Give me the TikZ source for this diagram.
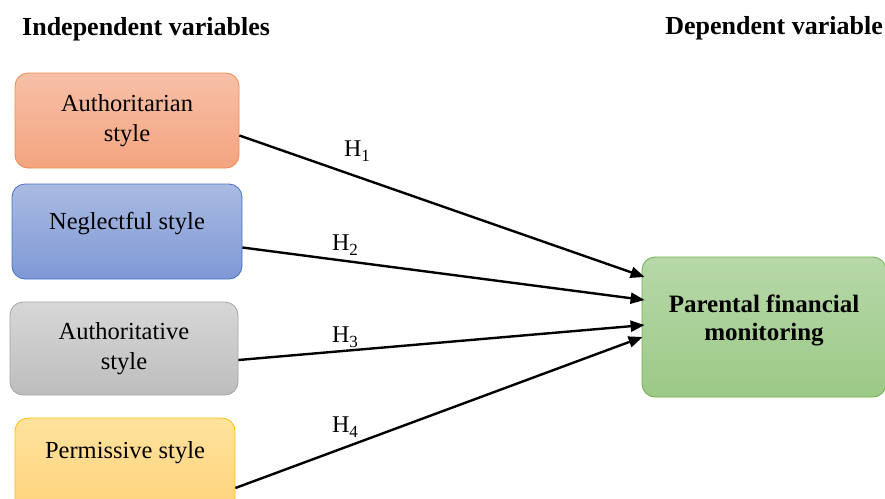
\documentclass[tikz,border=0pt]{standalone}
\usepackage{fontspec}
\setmainfont{Liberation Serif}
\usetikzlibrary{arrows.meta}

\definecolor{orgtop}{HTML}{F7C0A7}
\definecolor{orgbot}{HTML}{F4A47F}
\definecolor{orgline}{HTML}{EE8B57}
\definecolor{blutop}{HTML}{AABAE2}
\definecolor{blubot}{HTML}{7F99D6}
\definecolor{bluline}{HTML}{4472C4}
\definecolor{grytop}{HTML}{D7D7D7}
\definecolor{grybot}{HTML}{BDBDBD}
\definecolor{gryline}{HTML}{A5A5A5}
\definecolor{yeltop}{HTML}{FFE29D}
\definecolor{yelbot}{HTML}{FFD37C}
\definecolor{yelline}{HTML}{FFC000}
\definecolor{grntop}{HTML}{B7D8A9}
\definecolor{grnbot}{HTML}{9CC986}
\definecolor{grnline}{HTML}{70AD47}

\newcommand{\hyplab}[1]{H\raisebox{-5pt}{\fontsize{17}{17}\selectfont #1}}

\begin{document}
\begin{tikzpicture}[x=1pt,y=-1pt,
    stylebox/.style={rectangle, rounded corners=13pt, line width=0.8pt, align=center,
        font=\fontsize{24.5}{30}\selectfont, inner sep=0pt},
    liftup/.style={text depth=#1},
    header/.style={font=\fontsize{26}{30}\selectfont\bfseries, inner sep=0pt},
    hyp/.style={line width=2.4pt, -{Triangle[length=14pt,width=11pt]}},
    hlabel/.style={font=\fontsize{24}{28}\selectfont, inner sep=0pt}]
    \useasboundingbox (0,0) rectangle (885,498);

    \node[header, anchor=base west] (indep) at (22,35) {Independent variables};
    \node[header, anchor=base east] (dep) at (883,34) {Dependent variable};

    \node[stylebox, draw=orgline, top color=orgtop, bottom color=orgbot,
        minimum width=224pt, minimum height=95pt] (auth) at (127,120.5) {Authoritarian\\style};
    \node[stylebox, draw=bluline, top color=blutop, bottom color=blubot,
        minimum width=230pt, minimum height=95pt, liftup=22pt] (negl) at (127,231.5) {Neglectful style};
    \node[stylebox, draw=gryline, top color=grytop, bottom color=grybot,
        minimum width=228pt, minimum height=93pt] (autv) at (124,348.5) {Authoritative\\style};
    \node[stylebox, draw=yelline, top color=yeltop, bottom color=yelbot,
        minimum width=220pt, minimum height=94pt, liftup=30pt] (perm) at (125,465) {Permissive style};

    \node[stylebox, draw=grnline, top color=grntop, bottom color=grnbot, font=\fontsize{25}{28}\selectfont\bfseries,
        minimum width=244pt, minimum height=140pt, liftup=18pt] (pfm) at (764,327) {Parental financial\\monitoring};

    \draw[hyp] ([yshift=-15pt]auth.east) -- ([xshift=3pt,yshift=50pt]pfm.west);
    \draw[hyp] ([yshift=-16pt]negl.east) -- ([xshift=3pt,yshift=27pt]pfm.west);
    \draw[hyp] ([yshift=-11.5pt]autv.east) -- ([xshift=3pt,yshift=2pt]pfm.west);
    \draw[hyp] ([yshift=-23pt]perm.east) -- ([xshift=1pt,yshift=-10pt]pfm.west);

    \node[hlabel] (h1) at (357,151) {\hyplab{1}};
    \node[hlabel] (h2) at (345,245) {\hyplab{2}};
    \node[hlabel] (h3) at (345,337) {\hyplab{3}};
    \node[hlabel] (h4) at (345,427) {\hyplab{4}};
\end{tikzpicture}
\end{document}
